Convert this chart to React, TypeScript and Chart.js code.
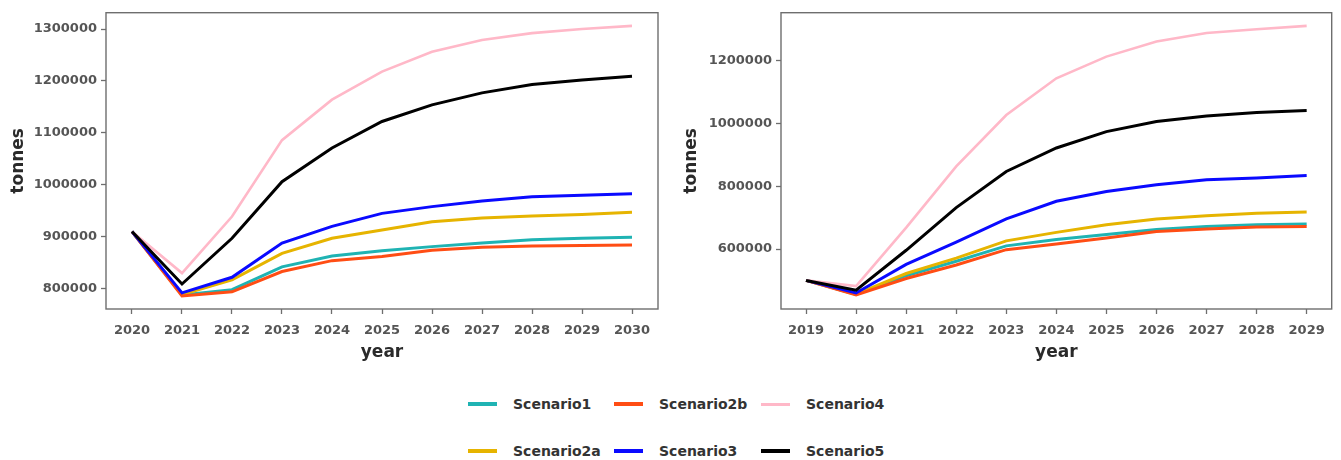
import React, { useEffect, useRef } from "react";
import { Chart, registerables } from "chart.js";

Chart.register(...registerables);

// Scenario names and line colours
const scenarios = ["Scenario1", "Scenario2a", "Scenario2b", "Scenario3", "Scenario4", "Scenario5"];
const colors = ["#1fb3b3", "#e6b400", "#ff4d14", "#0a0aff", "#ffb8c8", "#000000"];

// Left panel: 2020-2030
const yearsA = [2020, 2021, 2022, 2023, 2024, 2025, 2026, 2027, 2028, 2029, 2030];
const a_s1 = [910000, 788000, 798000, 842000, 863000, 873000, 881000, 888000, 894000, 897000, 899000];
const a_s2a = [910000, 789000, 817000, 868000, 897000, 913000, 929000, 936000, 940000, 943000, 947000];
const a_s2b = [910000, 786000, 794000, 833000, 854000, 862000, 874000, 880000, 882000, 883000, 884000];
const a_s3 = [910000, 792000, 822000, 888000, 920000, 945000, 958000, 969000, 977000, 980000, 983000];
const a_s4 = [910000, 830000, 939000, 1086000, 1164000, 1218000, 1256000, 1279000, 1292000, 1300000, 1306000];
const a_s5 = [910000, 809000, 897000, 1006000, 1071000, 1122000, 1154000, 1177000, 1193000, 1202000, 1209000];
const yTicksA = [800000, 900000, 1000000, 1100000, 1200000, 1300000];

// Right panel: 2019-2029
const yearsB = [2019, 2020, 2021, 2022, 2023, 2024, 2025, 2026, 2027, 2028, 2029];
const b_s1 = [500000, 455000, 515000, 561000, 610000, 630000, 646000, 662000, 672000, 677000, 680000];
const b_s2a = [500000, 456000, 522000, 571000, 626000, 653000, 677000, 696000, 706000, 714000, 718000];
const b_s2b = [500000, 454000, 506000, 549000, 598000, 616000, 635000, 656000, 664000, 670000, 672000];
const b_s3 = [500000, 460000, 551000, 622000, 696000, 752000, 783000, 805000, 821000, 826000, 834000];
const b_s4 = [500000, 482000, 668000, 863000, 1027000, 1144000, 1213000, 1261000, 1288000, 1300000, 1311000];
const b_s5 = [500000, 469000, 596000, 732000, 847000, 922000, 974000, 1006000, 1024000, 1035000, 1041000];
const yTicksB = [600000, 800000, 1000000, 1200000];

const FONT = "'DejaVu Sans', sans-serif";

type Panel = {
  years: number[];
  series: number[][];
  yTicks: number[];
  xMin: number;
  xMax: number;
  yMin: number;
  yMax: number;
  yAxisWidth: number;
  rightPad: number;
  yTitlePad: number;
};

const frame = {
  id: "panelFrame",
  afterDraw(chart: any) {
    const { ctx, chartArea } = chart;
    ctx.save();
    ctx.strokeStyle = "#6e6e6e";
    ctx.lineWidth = 1.4;
    ctx.strokeRect(chartArea.left, chartArea.top, chartArea.right - chartArea.left, chartArea.bottom - chartArea.top);
    ctx.restore();
  },
};

function PanelChart({ p, width, height }: { p: Panel; width: number; height: number }) {
  const ref = useRef<HTMLCanvasElement | null>(null);
  useEffect(() => {
    if (!ref.current) return;
    // datasets listed top-most first (Chart.js draws index 0 last)
    const order = [5, 4, 3, 2, 1, 0];
    const datasets = order.map((i) => ({
      label: scenarios[i],
      data: p.years.map((y, k) => ({ x: y, y: p.series[i][k] })),
      borderColor: colors[i],
      backgroundColor: colors[i],
      borderWidth: i === 4 ? 2.6 : 3,
      pointRadius: 0,
      tension: 0,
      fill: false,
    }));
    const chart = new Chart(ref.current, {
      type: "line",
      data: { datasets },
      plugins: [frame],
      options: {
        responsive: false,
        animation: false,
        events: [],
        layout: { padding: { left: 0, right: p.rightPad, top: 12.7, bottom: 0 } },
        plugins: { legend: { display: false }, tooltip: { enabled: false } },
        scales: {
          x: {
            type: "linear",
            min: p.xMin,
            max: p.xMax,
            afterBuildTicks: (s: any) => {
              s.ticks = p.years.map((v) => ({ value: v }));
            },
            afterFit: (s: any) => {
              s.height = 61;
            },
            border: { display: false },
            grid: { drawOnChartArea: false, drawTicks: true, tickLength: 5, tickColor: "#6e6e6e", tickWidth: 1.3 },
            ticks: {
              autoSkip: false,
              maxRotation: 0,
              padding: 9,
              color: "#555555",
              font: { family: FONT, size: 13, weight: "bold" },
              callback: (v: any) => String(v),
            },
            title: {
              display: true,
              text: "year",
              color: "#2a2a2a",
              font: { family: FONT, size: 17, weight: "bold" },
              padding: { top: 0, bottom: 7 },
            },
          },
          y: {
            type: "linear",
            min: p.yMin,
            max: p.yMax,
            afterBuildTicks: (s: any) => {
              s.ticks = p.yTicks.map((v) => ({ value: v }));
            },
            afterFit: (s: any) => {
              s.width = p.yAxisWidth;
            },
            border: { display: false },
            grid: { drawOnChartArea: false, drawTicks: true, tickLength: 5, tickColor: "#6e6e6e", tickWidth: 1.3 },
            ticks: {
              padding: 4,
              color: "#555555",
              font: { family: FONT, size: 13, weight: "bold" },
              callback: (v: any) => String(v),
            },
            title: {
              display: true,
              text: "tonnes",
              color: "#2a2a2a",
              font: { family: FONT, size: 17, weight: "bold" },
              padding: { top: p.yTitlePad, bottom: 0 },
            },
          },
        },
      } as any,
    });
    return () => chart.destroy();
  }, [p, width, height]);
  return <canvas ref={ref} width={width} height={height} style={{ display: "block" }} />;
}

const panelA: Panel = {
  years: yearsA,
  series: [a_s1, a_s2a, a_s2b, a_s3, a_s4, a_s5],
  yTicks: yTicksA,
  xMin: 2019.48,
  xMax: 2030.52,
  yMin: 760900,
  yMax: 1331400,
  yAxisWidth: 106,
  rightPad: 12,
  yTitlePad: 8,
};

const panelB: Panel = {
  years: yearsB,
  series: [b_s1, b_s2a, b_s2b, b_s3, b_s4, b_s5],
  yTicks: yTicksB,
  xMin: 2018.5,
  xMax: 2029.5,
  yMin: 408900,
  yMax: 1352900,
  yAxisWidth: 111,
  rightPad: 9.3,
  yTitlePad: 11,
};

// Legend laid out column by column, as three columns of two rows
const legendCols = [
  [0, 1],
  [2, 3],
  [4, 5],
];
const legendColX = [468, 614, 761];
const legendRowY = [404, 451];

export default function App() {
  return (
    <div style={{ position: "absolute", left: 0, top: 0, width: 1341, height: 460, background: "#ffffff", overflow: "hidden" }}>
      <div style={{ position: "absolute", left: 0, top: 0 }}>
        <PanelChart p={panelA} width={670} height={370} />
      </div>
      <div style={{ position: "absolute", left: 670, top: 0 }}>
        <PanelChart p={panelB} width={671} height={370} />
      </div>
      {legendCols.map((col, ci) =>
        col.map((si, ri) => (
          <div
            key={scenarios[si]}
            style={{
              position: "absolute",
              left: legendColX[ci],
              top: legendRowY[ri] - 12,
              height: 24,
              display: "flex",
              alignItems: "center",
              fontFamily: FONT,
              fontWeight: "bold",
              fontSize: 14,
              color: "#333333",
              whiteSpace: "nowrap",
            }}
          >
            <span style={{ display: "inline-block", width: 29, height: si === 4 ? 3 : 3.5, background: colors[si], marginRight: 16 }} />
            <span>{scenarios[si]}</span>
          </div>
        ))
      )}
    </div>
  );
}
